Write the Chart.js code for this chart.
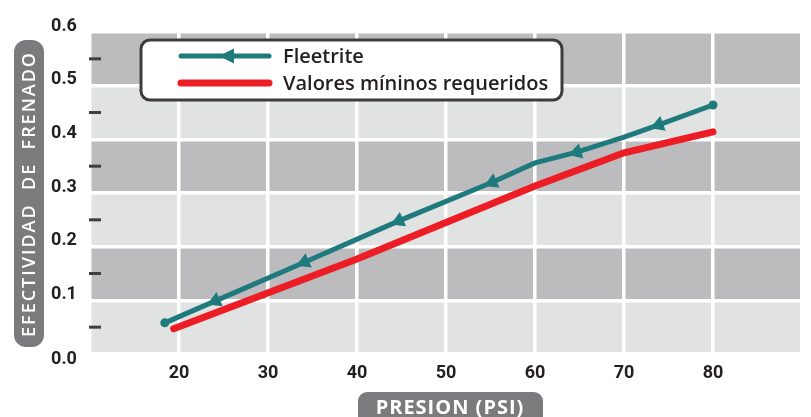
<!DOCTYPE html>
<html>
<head>
<meta charset="utf-8">
<script src="https://cdn.jsdelivr.net/npm/chart.js@4.4.1/dist/chart.umd.min.js"></script>
<style>
  html, body { margin: 0; padding: 0; background: #fff; }
  #wrap { width: 811px; height: 417px; position: relative; }
</style>
</head>
<body>
<div id="wrap"><canvas id="grafFrenado"></canvas></div>
<script>
const xTicks = [20, 30, 40, 50, 60, 70, 80]
const yTicks = ['0.0', '0.1', '0.2', '0.3', '0.4', '0.5', '0.6']

const fleetX = [18.4, 24.1, 34.1, 44.7, 55.2, 60, 64.7, 70, 73.9, 80]
const fleetY = [0.058, 0.099, 0.171, 0.248, 0.320, 0.356, 0.376, 0.404, 0.427, 0.464]

const minX = [19.4, 40, 60, 70, 80]
const minY = [0.047, 0.177, 0.313, 0.375, 0.414]

const TEAL = '#1e7a7d'
const RED = '#ec1d25'
const INK = '#231f20'
const PILL = '#7b7b7e'
const NARROW = 'Roboto, "Liberation Sans", sans-serif'

const ctxFren = document.getElementById('grafFrenado')

// arrow heads point back along the line
function arrowAngle(c) {
  const data = c.chart.data.datasets[c.datasetIndex].data
  const i = c.dataIndex
  const a = data[Math.max(i - 1, 0)]
  const b = data[Math.min(i + 1, data.length - 1)]
  const sx = c.chart.scales.x, sy = c.chart.scales.y
  const dx = sx.getPixelForValue(b.x) - sx.getPixelForValue(a.x)
  const dy = sy.getPixelForValue(b.y) - sy.getPixelForValue(a.y)
  return Math.atan2(-dx, dy) * 180 / Math.PI
}

function roundRect(ctx, x, y, w, h, r) {
  ctx.beginPath()
  ctx.roundRect(x, y, w, h, r)
}

const bandas = {
  id: 'bandas',
  beforeDraw(chart) {
    const { ctx, chartArea: a, scales: { y } } = chart
    ctx.save()
    roundRect(ctx, a.left, a.top, a.right - a.left, a.bottom - a.top, 5)
    ctx.clip()
    for (let i = 0; i < yTicks.length - 1; i++) {
      const top = y.getPixelForValue(Number(yTicks[i + 1]))
      const bot = y.getPixelForValue(Number(yTicks[i]))
      ctx.fillStyle = i % 2 ? '#bcbcbf' : '#e1e2e2'
      ctx.fillRect(a.left, top, a.right - a.left, bot - top)
    }
    ctx.restore()
  }
}

const extras = {
  id: 'extras',
  afterDraw(chart) {
    const { ctx, chartArea: a, scales: { y } } = chart
    ctx.save()

    // y labels and small dashes
    ctx.font = 'bold 18px ' + NARROW
    ctx.fillStyle = INK
    ctx.textAlign = 'center'
    ctx.textBaseline = 'middle'
    yTicks.forEach((t, i) => {
      const v = Number(t)
      const py = y.getPixelForValue(v)
      ctx.fillText(t, 64, v === 0 ? py + 5 : py - 6)
      if (i < yTicks.length - 1) {
        const mid = y.getPixelForValue(v + 0.05)
        ctx.fillStyle = '#3e3e3e'
        ctx.fillRect(89, mid - 1.5, 12, 3)
        ctx.fillStyle = INK
      }
    })

    // y title pill
    ctx.fillStyle = PILL
    roundRect(ctx, 14, 40, 30, 307, 12)
    ctx.fill()
    ctx.save()
    ctx.translate(29, 194)
    ctx.rotate(-Math.PI / 2)
    ctx.font = '600 18px "Open Sans"'
    const yt = 'EFECTIVIDAD  DE  FRENADO'
    const w0 = ctx.measureText(yt).width
    ctx.letterSpacing = ((284 - w0) / (yt.length - 1)).toFixed(2) + 'px'
    ctx.fillStyle = '#fff'
    ctx.textAlign = 'center'
    ctx.textBaseline = 'middle'
    ctx.fillText(yt, 0, 1)
    ctx.restore()

    // x title pill
    ctx.fillStyle = PILL
    roundRect(ctx, 358, 392, 185, 40, 9)
    ctx.fill()
    ctx.font = 'bold 20px "Open Sans"'
    ctx.letterSpacing = '1px'
    ctx.fillStyle = '#fff'
    ctx.textAlign = 'center'
    ctx.textBaseline = 'alphabetic'
    ctx.fillText('PRESION (PSI)', 450, 414)
    ctx.letterSpacing = '0px'

    // legend box
    ctx.fillStyle = '#fff'
    ctx.strokeStyle = '#3c3c3c'
    ctx.lineWidth = 3
    roundRect(ctx, 141, 40, 421, 60, 9)
    ctx.fill()
    ctx.stroke()

    const ds = chart.data.datasets
    const rows = [56, 83]
    ctx.lineCap = 'round'
    ds.forEach((d, i) => {
      ctx.strokeStyle = d.borderColor
      ctx.lineWidth = d.borderWidth
      ctx.beginPath()
      ctx.moveTo(181, rows[i])
      ctx.lineTo(269, rows[i])
      ctx.stroke()
      ctx.fillStyle = INK
      ctx.font = '600 20px "Open Sans"'
      ctx.textAlign = 'left'
      ctx.textBaseline = 'middle'
      ctx.fillText(d.label, 283, rows[i] + 1)
    })
    // arrow on legend sample
    ctx.fillStyle = TEAL
    ctx.beginPath()
    ctx.moveTo(219, rows[0])
    ctx.lineTo(234, rows[0] - 7.5)
    ctx.lineTo(234, rows[0] + 7.5)
    ctx.closePath()
    ctx.fill()

    ctx.restore()
  }
}

new Chart(ctxFren, {
  type: 'line',
  data: {
    datasets: [{
      label: 'Fleetrite',
      data: fleetX.map((x, i) => ({ x: x, y: fleetY[i] })),
      borderColor: TEAL,
      backgroundColor: TEAL,
      borderWidth: 5,
      pointStyle: ['circle', 'triangle', 'triangle', 'triangle', 'triangle', 'circle', 'triangle', 'circle', 'triangle', 'circle'],
      pointRadius: [4.5, 9, 9, 9, 9, 0, 9, 0, 9, 4.5],
      pointRotation: arrowAngle,
      pointBackgroundColor: TEAL,
      pointBorderWidth: 0,
      order: 0
    }, {
      label: 'Valores míninos requeridos',
      data: minX.map((x, i) => ({ x: x, y: minY[i] })),
      borderColor: RED,
      backgroundColor: RED,
      borderWidth: 7,
      borderCapStyle: 'round',
      pointRadius: 0,
      order: 1
    }]
  },
  options: {
    responsive: true,
    maintainAspectRatio: false,
    animation: false,
    layout: {
      padding: { top: 32, right: 2, left: 0, bottom: 0 }
    },
    plugins: {
      legend: { display: false },
      tooltip: { enabled: false }
    },
    scales: {
      x: {
        type: 'linear',
        min: 10,
        max: 90,
        ticks: {
          stepSize: 10,
          padding: 9,
          color: INK,
          font: { family: NARROW, size: 18, weight: 'bold' },
          callback: v => xTicks.includes(v) ? String(v) : ''
        },
        grid: { color: '#ffffff', lineWidth: 3.5, drawTicks: false },
        border: { display: false },
        afterFit: s => { s.height = 63 }
      },
      y: {
        min: 0,
        max: 0.6,
        ticks: { stepSize: 0.1, display: false },
        grid: { color: '#ffffff', lineWidth: 3.5, drawTicks: false },
        border: { display: false },
        afterFit: s => { s.width = 90 }
      }
    }
  },
  plugins: [bandas, extras]
});
</script>
</body>
</html>
